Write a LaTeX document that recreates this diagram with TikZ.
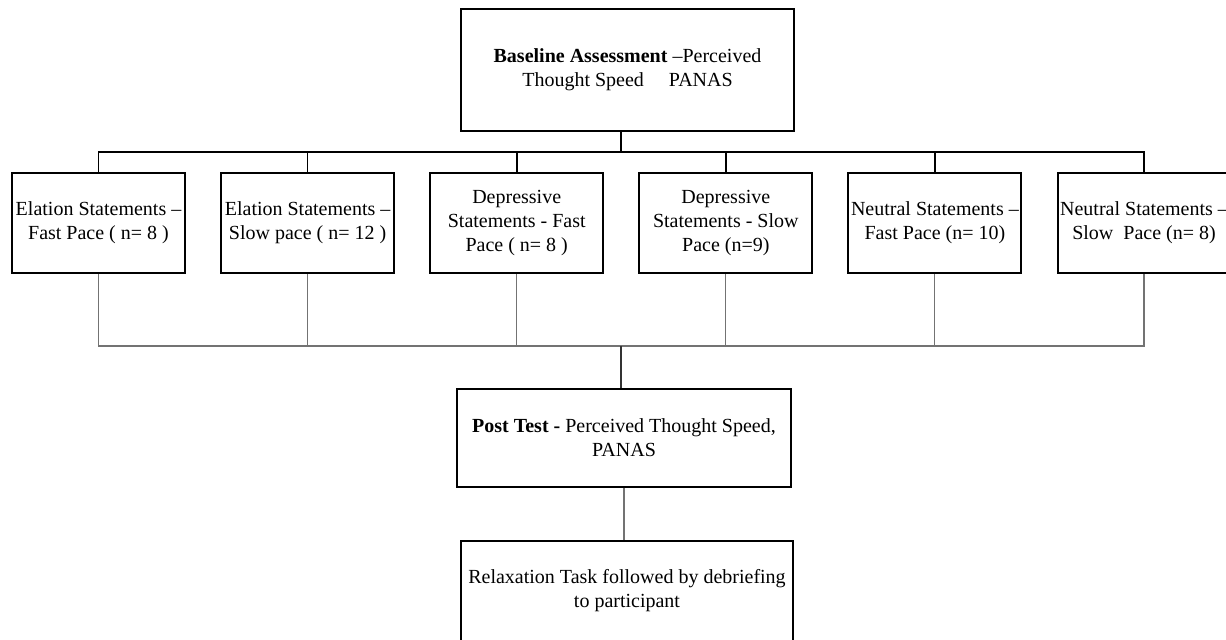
\documentclass[tikz,border=0pt]{standalone}
\usepackage{fontspec}
\setmainfont{Liberation Serif}

\begin{document}
\begin{tikzpicture}[x=0.75pt,y=-0.75pt,
  box/.style={draw,line width=1.5pt,align=center,inner sep=0pt,
    font=\fontsize{15}{18}\selectfont},
  grp/.style={box,minimum width=129.75pt,minimum height=75pt},
  link/.style={line width=1.3pt},
  back/.style={line width=0.8pt,draw=black!55}]

  \useasboundingbox (0,0) rectangle (1226,639);

  \node[box,minimum width=249.75pt,minimum height=91.5pt] (base) at (627.5,70)
    {\textbf{Baseline Assessment} –Perceived\\Thought Speed\hspace{1.25em}PANAS};

  \coordinate (topbus) at (621,152);
  \coordinate (lowbus) at (621,346);

  \foreach \i/\lbl in {1/{Elation Statements –\\Fast Pace ( n= 8 )},
                       2/{Elation Statements –\\Slow pace ( n= 12 )},
                       3/{Depressive\\Statements - Fast\\Pace ( n= 8 )},
                       4/{Depressive\\Statements - Slow\\Pace (n=9)},
                       5/{Neutral Statements –\\Fast Pace (n= 10)},
                       6/{Neutral Statements –\\Slow\hspace{0.5em}Pace (n= 8)}}
    \node[grp] (g\i) at ({98.5+209.1*(\i-1)},223) {\lbl};

  \node[box,minimum width=250.5pt,minimum height=73.5pt] (post) at (624,438)
    {\textbf{Post Test -} Perceived Thought Speed,\\PANAS};

  \node[box,line width=1.2pt,minimum width=249pt,minimum height=75pt] (relax) at (627,591)
    {Relaxation Task followed by debriefing\\to participant};

  \draw[link] (base.south -| topbus) -- (topbus);
  \foreach \i in {1,...,6} {
    \draw[link] (g\i.north) |- (topbus);
    \draw[back] (g\i.south) |- (lowbus);
  }
  \draw[line width=0.9pt,black!80] (lowbus) -- (lowbus |- post.north);
  \draw[back] (post.south) -- (post.south |- relax.north);

\end{tikzpicture}
\end{document}
